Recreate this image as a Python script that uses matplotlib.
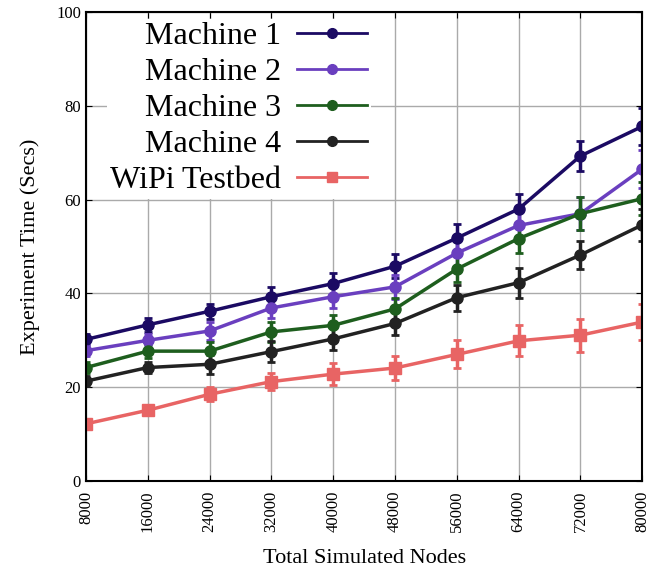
import matplotlib.pyplot as plt
from matplotlib.lines import Line2D
import numpy as np

plt.rcParams['font.family'] = ['Liberation Serif', 'DejaVu Serif']

nodes = [8000, 16000, 24000, 32000, 40000, 48000, 56000, 64000, 72000, 80000]

m1 = [30.2, 33.3, 36.2, 39.3, 42.1, 45.8, 51.8, 58.0, 69.3, 75.6]
m1_err = [1.2, 1.5, 1.6, 2.0, 2.2, 2.5, 3.0, 3.2, 3.2, 4.0]
m2 = [27.8, 30.0, 32.0, 36.9, 39.3, 41.4, 48.6, 54.5, 57.0, 66.5]
m2_err = [1.2, 1.3, 2.0, 2.2, 2.3, 2.5, 3.0, 3.0, 3.5, 4.0]
m3 = [24.2, 27.7, 27.7, 31.8, 33.2, 36.7, 45.2, 51.7, 57.0, 60.2]
m3_err = [1.2, 1.5, 2.0, 2.2, 2.2, 2.3, 2.8, 3.0, 3.5, 3.5]
m4 = [21.3, 24.2, 24.9, 27.6, 30.3, 33.6, 39.1, 42.3, 48.2, 54.6]
m4_err = [1.0, 1.2, 2.0, 2.2, 2.3, 2.5, 2.8, 3.2, 3.0, 3.5]
wipi = [12.2, 15.1, 18.5, 21.2, 22.8, 24.1, 27.0, 29.9, 31.1, 33.9]
wipi_err = [0.8, 1.0, 1.5, 1.8, 2.3, 2.5, 3.0, 3.3, 3.5, 3.8]

labels = ['Machine 1', 'Machine 2', 'Machine 3', 'Machine 4', 'WiPi Testbed']
colors = ['#1b0a63', '#6a3fbf', '#1e5e1e', '#222222', '#e86464']
markers = ['o', 'o', 'o', 'o', 's']

fig, ax = plt.subplots(figsize=(6.56, 5.70), dpi=100)

series = [(m1, m1_err), (m2, m2_err), (m3, m3_err), (m4, m4_err), (wipi, wipi_err)]
handles = []
for (vals, errs), lab, col, mk in zip(series, labels, colors, markers):
    ax.errorbar(nodes, vals, yerr=errs, color=col, marker=mk,
                markersize=8, linewidth=2.5, elinewidth=2.5, capsize=3, capthick=2)
    handles.append(Line2D([], [], color=col, marker=mk, markersize=7,
                          linewidth=2, label=lab))

ax.set_xlim(8000, 80000)
ax.set_ylim(0, 100)
ax.set_xticks(nodes)
ax.set_xticklabels([str(n) for n in nodes], rotation=90, fontsize=12)
ax.set_yticks([0, 20, 40, 60, 80, 100])
ax.tick_params(axis='y', labelsize=12)
ax.tick_params(direction='in', top=True, right=True, length=4)
ax.tick_params(axis='x', pad=7)
ax.grid(True, color='#aaaaaa', linewidth=1)
ax.set_axisbelow(True)
for sp in ax.spines.values():
    sp.set_linewidth(1.5)

ax.set_xlabel('Total Simulated Nodes', fontsize=16, labelpad=12)
ax.set_ylabel('Experiment Time (Secs)', fontsize=16, labelpad=12)

leg = ax.legend(handles=handles, loc='upper left', fontsize=23, markerfirst=False,
                frameon=True, fancybox=False, edgecolor='none', facecolor='white',
                framealpha=1, borderpad=0.1, labelspacing=0.21, handlelength=2.2,
                handletextpad=0.5, bbox_to_anchor=(0.009, 1.02))

plt.subplots_adjust(left=0.131, right=0.979, top=0.979, bottom=0.156)
plt.savefig('out.png', dpi=100)
